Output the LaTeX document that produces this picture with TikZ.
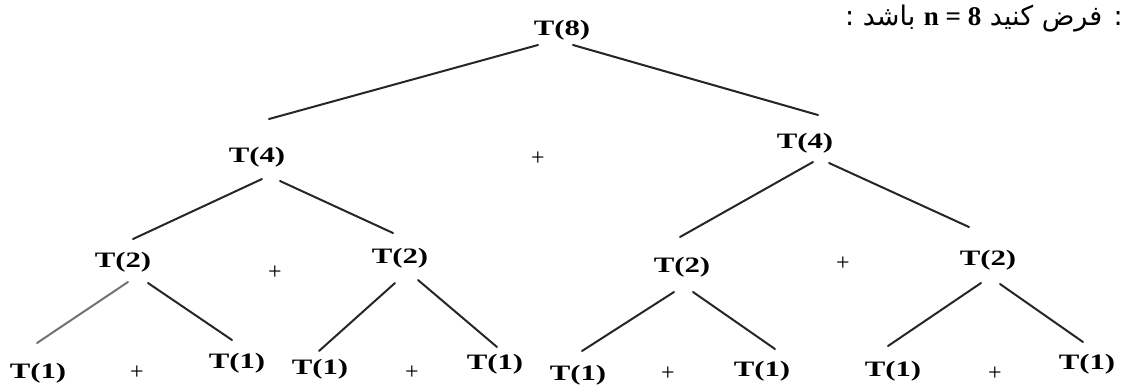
\documentclass[tikz,border=0pt]{standalone}
\usepackage{fontspec}
\usepackage{graphicx}
\setmainfont{Liberation Serif}
\newfontfamily\fa[Script=Arabic]{DejaVu Sans}
\TeXXeTstate=1
\newcommand{\TT}[1]{\scalebox{1.4}[1]{#1}}
\tikzset{
  tn/.style={font=\fontsize{22}{22}\selectfont\bfseries, inner sep=0pt},
  pl/.style={font=\fontsize{24}{24}\selectfont, inner sep=0pt},
  edge/.style={line width=2pt, draw=black!85, line cap=round},
}
\begin{document}
\begin{tikzpicture}[x=1pt,y=-1pt]
\useasboundingbox (0,0) rectangle (1124,386);
% title
\node[anchor=east, inner sep=0pt, font=\fontsize{27}{27}\selectfont] (title) at (1123,19)
  {\fa\beginR : فرض کنید \beginL{\fontspec{Liberation Serif}\bfseries n = 8}\endL{} باشد :\endR};
% nodes
\node[tn] (t8) at (562,30) {\TT{T(8)}};
\node[tn] (t4a) at (257,157) {\TT{T(4)}};
\node[tn] (t4b) at (805,143) {\TT{T(4)}};
\node[pl] (p1) at (538,159) {+};
\node[tn] (t2a) at (123,262) {\TT{T(2)}};
\node[tn] (t2b) at (400,258) {\TT{T(2)}};
\node[pl] (p2) at (275,273) {+};
\node[tn] (t2c) at (682,267) {\TT{T(2)}};
\node[tn] (t2d) at (988,260) {\TT{T(2)}};
\node[pl] (p3) at (843,264) {+};
\node[tn] (t1a) at (38,373) {\TT{T(1)}};
\node[tn] (t1b) at (237,363) {\TT{T(1)}};
\node[pl] (p4) at (137,373) {+};
\node[tn] (t1c) at (320,369) {\TT{T(1)}};
\node[tn] (t1d) at (495,364) {\TT{T(1)}};
\node[pl] (p5) at (412,373) {+};
\node[tn] (t1e) at (578,375) {\TT{T(1)}};
\node[tn] (t1f) at (762,371) {\TT{T(1)}};
\node[pl] (p6) at (668,374) {+};
\node[tn] (t1g) at (893,371) {\TT{T(1)}};
\node[tn] (t1h) at (1087,364) {\TT{T(1)}};
\node[pl] (p7) at (995,374) {+};
% edges
\draw[edge] ([shift={(-24,15)}]t8.center) -- ([shift={(12,-38)}]t4a.center);
\draw[edge] ([shift={(11,15)}]t8.center) -- ([shift={(13,-28)}]t4b.center);
\draw[edge] ([shift={(5,22)}]t4a.center) -- ([shift={(10,-23)}]t2a.center);
\draw[edge] ([shift={(23,24)}]t4a.center) -- ([shift={(-7,-25)}]t2b.center);
\draw[edge] ([shift={(8,19)}]t4b.center) -- ([shift={(-2,-30)}]t2c.center);
\draw[edge] ([shift={(24,20)}]t4b.center) -- ([shift={(-19,-33)}]t2d.center);
\draw[edge, draw=black!55] ([shift={(5,20)}]t2a.center) -- ([shift={(-1,-30)}]t1a.center);
\draw[edge] ([shift={(25,21)}]t2a.center) -- ([shift={(-5,-23)}]t1b.center);
\draw[edge] ([shift={(-5,25)}]t2b.center) -- ([shift={(-1,-18)}]t1c.center);
\draw[edge] ([shift={(18,22)}]t2b.center) -- ([shift={(2,-17)}]t1d.center);
\draw[edge] ([shift={(-8,25)}]t2c.center) -- ([shift={(4,-24)}]t1e.center);
\draw[edge] ([shift={(11,25)}]t2c.center) -- ([shift={(13,-22)}]t1f.center);
\draw[edge] ([shift={(-7,23)}]t2d.center) -- ([shift={(-5,-25)}]t1g.center);
\draw[edge] ([shift={(12,24)}]t2d.center) -- ([shift={(-4,-22)}]t1h.center);
\end{tikzpicture}
\end{document}
